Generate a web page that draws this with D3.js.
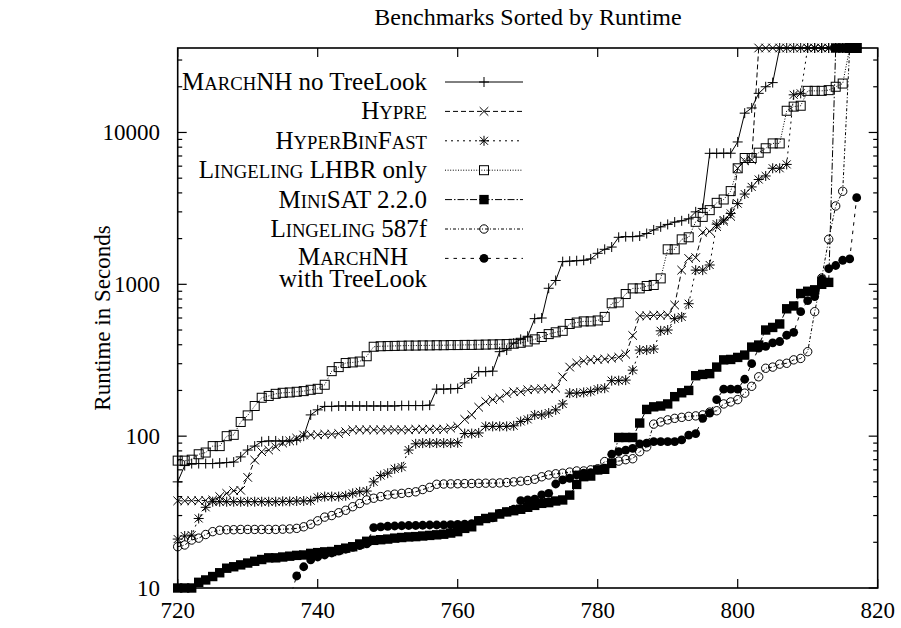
<!DOCTYPE html>
<html><head><meta charset="utf-8">
<script src="https://cdn.jsdelivr.net/npm/d3@7"></script>
<style>
body{margin:0;background:#fff}
svg{display:block}
text{font-family:"Liberation Serif","Times New Roman",serif;fill:#000}
</style>
</head><body>
<svg id="chart" width="901" height="628"></svg>
<script>
// ---------------- data (runtime in seconds, benchmark index from start) ----------------
const xTicks = [720, 740, 760, 780, 800, 820];
const yTicks = [10, 100, 1000, 10000];
const TIMEOUT = 36000;

const marchNoTreeStart = 720;
const marchNoTree = [
  50, 64, 66, 66, 66, 66, 66.5, 67, 67.5, 73,
  81, 86, 92, 93, 93, 93, 93, 94, 100, 138,
  149, 157, 157, 158, 158, 158, 158, 158, 158, 158,
  158, 158, 159, 159, 159, 159, 160, 204, 204, 205,
  206, 224, 240, 266, 266, 268, 360, 369, 410, 434,
  455, 594, 600, 942, 1060, 1410, 1420, 1430, 1440, 1470,
  1600, 1700, 1760, 2040, 2060, 2060, 2080, 2160, 2280, 2390,
  2480, 2570, 2620, 2700, 3000, 3160, 7290, 7290, 7300, 7300,
  8660, 13400, 14500, 18100, 20000, 21300, 36000, 36000, 36000, 36000,
  36000, 36000, 36000, 36000, 36000, 36000, 36000, 36000
];

const hypreStart = 720;
const hypre = [
  37.5, 37.5, 37.6, 37.6, 37.7, 38, 40, 42, 43.7, 44,
  53.5, 69.6, 79, 81, 85, 90, 93, 97, 101.7, 102,
  102, 103, 103, 104, 107, 110, 110, 110, 110, 110,
  110, 110, 110, 110, 111, 111, 111, 111, 111, 113,
  116, 129, 138, 155, 169, 174, 178, 191, 196, 196,
  202, 204, 205, 205, 207, 246, 285, 303, 313, 318,
  320, 322, 326, 331, 346, 460, 620, 620, 625, 625,
  628, 730, 1240, 1480, 1500, 2200, 2230, 2400, 2600, 2800,
  5810, 6500, 6600, 36000, 36000, 36000, 36000, 36000, 36000, 36000,
  36000, 36000, 36000, 36000, 36000, 36000, 36000, 36000
];

const hyperBinFastStart = 720;
const hyperBinFast = [
  21, 22, 22.3, 28.7, 34, 37, 37, 37, 37, 37,
  37, 37, 37, 37, 37, 37.2, 37.2, 37.4, 37.4, 37.6,
  39.5, 40, 40, 40, 40.5, 42, 43, 43.5, 50, 55,
  57, 61, 62.5, 81, 89, 90, 90, 90, 90, 90,
  90.5, 104, 104, 105, 116, 116, 116, 116, 117, 125,
  129, 138, 138, 142, 149, 163, 192, 192, 194, 197,
  204, 207, 232, 232, 234, 272, 369, 369, 375, 494,
  500, 594, 610, 745, 1240, 1240, 1340, 2490, 2650, 2930,
  3400, 3930, 4380, 4900, 5170, 5810, 5810, 6160, 17700, 18100,
  36000, 36000, 36000, 36000, 36000, 36000, 36000, 36000
];

const lingelingLhbrStart = 720;
const lingelingLhbr = [
  69, 69, 70, 76, 78, 86, 86, 100, 102, 124,
  137, 158, 179, 184, 190, 193, 194, 196, 198, 202,
  205, 218, 268, 285, 303, 306, 310, 336, 388, 391,
  392, 393, 394, 395, 395, 396, 396, 397, 397, 398,
  398, 399, 399, 400, 401, 402, 403, 404, 406, 412,
  420, 434, 450, 470, 483, 494, 548, 560, 570, 570,
  578, 610, 750, 760, 863, 940, 940, 975, 990, 1094,
  1700, 1700, 1977, 2040, 2580, 2780, 3080, 3440, 3620, 4110,
  5810, 6790, 6790, 7360, 7870, 8470, 8470, 13900, 14800, 15000,
  18800, 18800, 18800, 19000, 20000, 21000, 36000, 36000
];

const minisatStart = 720;
const minisat = [
  10, 10, 10, 10.9, 11.3, 11.9, 12.6, 13.5, 13.8, 14.2,
  14.6, 15, 15.4, 15.8, 15.8, 16, 16.2, 16.4, 16.5, 16.9,
  17.1, 17.3, 17.4, 17.9, 18.3, 18.7, 19.5, 20.3, 20.6, 20.8,
  21, 21.3, 21.5, 21.7, 21.8, 22, 22.2, 22.4, 22.6, 23,
  23.5, 24.7, 25.3, 27.7, 28.7, 29.3, 30.7, 31.7, 32.3, 33,
  34, 35, 36.1, 36.5, 37.4, 38, 40.9, 48.1, 54.1, 54.6,
  59.9, 60.5, 66.2, 98, 98, 98, 122, 150, 156, 158,
  163, 182, 193, 200, 250, 255, 258, 285, 318, 320,
  330, 342, 386, 398, 500, 520, 548, 690, 720, 870,
  900, 920, 1000, 1030, 36000, 36000, 36000, 36000
];

const lingeling587Start = 720;
const lingeling587 = [
  18.7, 19.2, 20.7, 21.3, 22.5, 23.5, 24, 24.2, 24.2, 24.3,
  24.3, 24.3, 24.3, 24.3, 24.3, 24.4, 24.5, 24.7, 25.3, 26.3,
  27.7, 29.3, 30, 31.3, 32.5, 34.3, 36, 38, 39, 40,
  41, 41.5, 42, 42.5, 43, 44.5, 46, 48.2, 48.4, 48.5,
  48.6, 48.7, 48.8, 48.9, 49, 49, 49.2, 49.5, 50, 50.5,
  51, 52, 54, 55.5, 56.5, 57, 58, 59, 59, 60,
  61, 68, 68, 68.5, 70, 71, 79, 85, 120, 124,
  128, 131, 133, 135, 136, 138, 144, 147, 163, 168,
  174, 192, 213, 246, 280, 285, 298, 302, 318, 325,
  360, 660, 1100, 1980, 3280, 4100, 36000, 36000
];

const marchTreeStart = 736;
const marchTree = [
  8.5, 12, 13.8, 15.3,
  16, 16.5, 17, 17.5, 18, 18.5, 19, 19.5, 25, 25.3,
  25.5, 25.6, 25.7, 25.8, 25.8, 25.9, 26, 26, 26, 26.1,
  26.2, 26.3, 26.5, 27.9, 28.7, 29, 31, 31.7, 33, 37.6,
  38, 38.5, 41, 42, 48.4, 51.5, 52.8, 55.5, 57, 57.5,
  60, 61.5, 76, 79, 81, 83, 89, 90, 92, 92,
  92, 92, 94.5, 101.7, 104, 131, 142, 174, 204, 204,
  204, 237, 300, 380, 390, 412, 420, 462, 483, 660,
  780, 830, 1080, 1270, 1330, 1440, 1470, 3720
];

// legend labels: [text, smallcaps?] segments
const labelMarchNoTree = [["M",0],["ARCH",1],["NH no TreeLook",0]];
const labelHypre = [["H",0],["YPRE",1]];
const labelHyperBin = [["H",0],["YPER",1],["B",0],["IN",1],["F",0],["AST",1]];
const labelLhbr = [["L",0],["INGELING",1],[" LHBR only",0]];
const labelMinisat = [["M",0],["INI",1],["SAT 2.2.0",0]];
const labelLing587 = [["L",0],["INGELING",1],[" 587f",0]];
const labelMarchTree1 = [["M",0],["ARCH",1],["NH",0]];
const labelMarchTree2 = [["with TreeLook",0]];

const titleText = "Benchmarks Sorted by Runtime";
const yTitle = "Runtime in Seconds";

// ---------------- chart ----------------
(function draw() {
const svg = d3.select("#chart");
const pL = 177.7, pR = 877.7, pT = 48, pB = 588;
const x = d3.scaleLinear().domain([720, 820]).range([pL, pR]);
const y = d3.scaleLog().domain([10, TIMEOUT]).range([pB, pT]);

const FS = 23;
const LFS = 25, SFS = 18.7;
const g = svg.append("g");

// border
g.append("rect").attr("x", pL).attr("y", pT).attr("width", pR - pL).attr("height", pB - pT)
  .attr("fill", "none").attr("stroke", "#000").attr("stroke-width", 1.6);

// y ticks
const minor = [];
[10, 100, 1000, 10000].forEach(d => { for (let k = 2; k <= 9; k++) if (d * k <= TIMEOUT) minor.push(d * k); });
yTicks.forEach(v => {
  const yy = y(v);
  g.append("line").attr("x1", pL).attr("x2", pL + 9).attr("y1", yy).attr("y2", yy).attr("stroke", "#000").attr("stroke-width", 1.2);
  g.append("line").attr("x1", pR).attr("x2", pR - 9).attr("y1", yy).attr("y2", yy).attr("stroke", "#000").attr("stroke-width", 1.2);
  g.append("text").attr("x", 160).attr("y", yy + 7.5).attr("text-anchor", "end").attr("font-size", FS).text(v);
});
minor.forEach(v => {
  const yy = y(v);
  g.append("line").attr("x1", pL).attr("x2", pL + 4.5).attr("y1", yy).attr("y2", yy).attr("stroke", "#000").attr("stroke-width", 1.2);
  g.append("line").attr("x1", pR).attr("x2", pR - 4.5).attr("y1", yy).attr("y2", yy).attr("stroke", "#000").attr("stroke-width", 1.2);
});
// x ticks
xTicks.forEach(v => {
  const xx = x(v);
  g.append("line").attr("x1", xx).attr("x2", xx).attr("y1", pB).attr("y2", pB - 9).attr("stroke", "#000").attr("stroke-width", 1.2);
  g.append("line").attr("x1", xx).attr("x2", xx).attr("y1", pT).attr("y2", pT + 9).attr("stroke", "#000").attr("stroke-width", 1.2);
  g.append("text").attr("x", xx).attr("y", 618).attr("text-anchor", "middle").attr("font-size", FS).text(v);
});

// titles
svg.append("text").attr("x", 528).attr("y", 25).attr("text-anchor", "middle").attr("font-size", 24).text(titleText);
svg.append("text").attr("transform", "translate(110,318) rotate(-90)").attr("text-anchor", "middle")
  .attr("font-size", FS).text(yTitle);

// markers
const markers = {
  plus: (s, px, py) => s.append("path").attr("d", `M${px-5},${py}H${px+5}M${px},${py-5}V${py+5}`).attr("stroke", "#000").attr("fill", "none").attr("stroke-width", 1),
  cross: (s, px, py) => s.append("path").attr("d", `M${px-4.3},${py-4.3}L${px+4.3},${py+4.3}M${px-4.3},${py+4.3}L${px+4.3},${py-4.3}`).attr("stroke", "#000").attr("fill", "none").attr("stroke-width", 1),
  star: (s, px, py) => s.append("path").attr("d", `M${px-5},${py}H${px+5}M${px},${py-5}V${py+5}M${px-4},${py-4}L${px+4},${py+4}M${px-4},${py+4}L${px+4},${py-4}`).attr("stroke", "#000").attr("fill", "none").attr("stroke-width", 1),
  box: (s, px, py) => s.append("rect").attr("x", px - 4.5).attr("y", py - 4.5).attr("width", 9).attr("height", 9).attr("stroke", "#000").attr("fill", "none").attr("stroke-width", 1),
  fbox: (s, px, py) => s.append("rect").attr("x", px - 4.7).attr("y", py - 4.7).attr("width", 9.4).attr("height", 9.4).attr("fill", "#000"),
  circle: (s, px, py) => s.append("circle").attr("cx", px).attr("cy", py).attr("r", 4.2).attr("stroke", "#000").attr("fill", "none").attr("stroke-width", 1),
  fcircle: (s, px, py) => s.append("circle").attr("cx", px).attr("cy", py).attr("r", 4.4).attr("fill", "#000")
};

const series = [
  { label: [labelMarchNoTree], values: marchNoTree, start: marchNoTreeStart, dash: null, marker: "plus" },
  { label: [labelHypre], values: hypre, start: hypreStart, dash: "5,3", marker: "cross" },
  { label: [labelHyperBin], values: hyperBinFast, start: hyperBinFastStart, dash: "2,4", marker: "star" },
  { label: [labelLhbr], values: lingelingLhbr, start: lingelingLhbrStart, dash: "1,1.6", marker: "box" },
  { label: [labelMinisat], values: minisat, start: minisatStart, dash: "7,2,1.5,2", marker: "fbox" },
  { label: [labelLing587], values: lingeling587, start: lingeling587Start, dash: "3,2,1,2", marker: "circle" },
  { label: [labelMarchTree1, labelMarchTree2], values: marchTree, start: marchTreeStart, dash: "3.5,5", marker: "fcircle" }
];

svg.append("defs").append("clipPath").attr("id", "plotclip").append("rect")
  .attr("x", pL).attr("y", pT - 0.5).attr("width", pR - pL).attr("height", pB - pT + 1);

const legendTextX = 427, legX1 = 445, legX2 = 523, rowY0 = 82, rowDY = 29.4;
const line = d3.line().x(d => x(d.n)).y(d => y(d.v));

function fillSegs(el, segs) {
  segs.forEach(([s, sc]) => el.append("tspan").attr("font-size", sc ? SFS : LFS).text(s));
}

series.forEach((s, i) => {
  const pts = s.values.map((v, k) => ({ n: s.start + k, v }));
  const gs = svg.append("g");
  const path = gs.append("path").attr("d", line(pts)).attr("fill", "none").attr("stroke", "#000")
    .attr("stroke-width", 1).attr("clip-path", "url(#plotclip)");
  if (s.dash) path.attr("stroke-dasharray", s.dash);
  pts.filter(p => p.v >= 10 && p.v <= TIMEOUT).forEach(p => markers[s.marker](gs, x(p.n), y(p.v)));

  // legend
  const ry = rowY0 + i * rowDY;
  const lp = svg.append("line").attr("x1", legX1).attr("x2", legX2).attr("y1", ry).attr("y2", ry)
    .attr("stroke", "#000").attr("stroke-width", 1);
  if (s.dash) lp.attr("stroke-dasharray", s.dash);
  markers[s.marker](svg, (legX1 + legX2) / 2, ry);
  if (s.label.length === 1) {
    const t = svg.append("text").attr("x", legendTextX).attr("y", ry + 8).attr("text-anchor", "end").attr("font-size", LFS);
    fillSegs(t, s.label[0]);
  } else {
    // measure second line width, then centre both lines on it
    const tmp = svg.append("text").attr("font-size", LFS);
    fillSegs(tmp, s.label[1]);
    const w2 = tmp.node().getComputedTextLength();
    tmp.remove();
    const cx = legendTextX - w2 / 2;
    const t = svg.append("text").attr("text-anchor", "middle").attr("font-size", LFS);
    const l1 = t.append("tspan").attr("x", cx).attr("y", ry + 7);
    fillSegs(l1, s.label[0]);
    const l2 = t.append("tspan").attr("x", cx).attr("y", ry + 28.5);
    fillSegs(l2, s.label[1]);
  }
});
})();
</script>
</body></html>
